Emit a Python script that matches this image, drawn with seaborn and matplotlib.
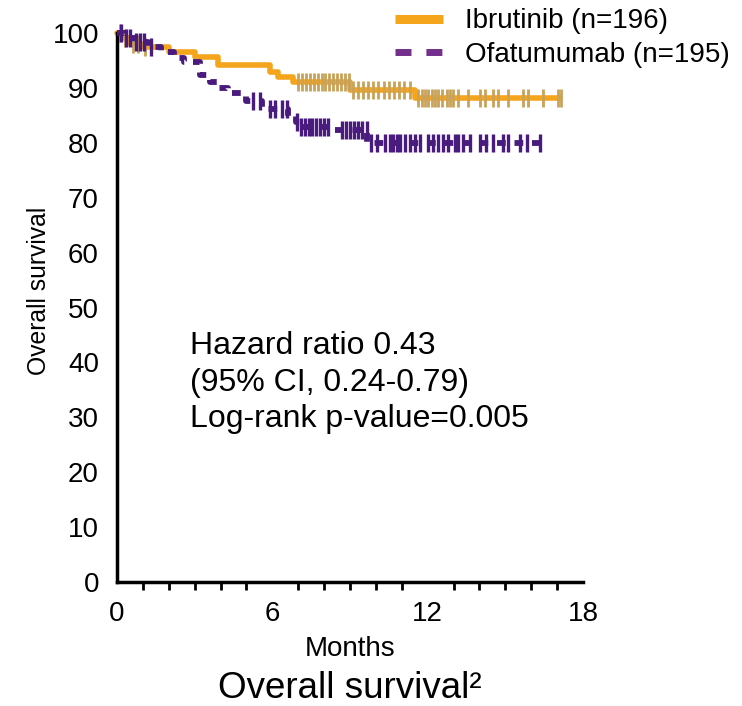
import numpy as np
import pandas as pd
import matplotlib
matplotlib.use("Agg")
import matplotlib.pyplot as plt
from matplotlib.lines import Line2D
import seaborn as sns

sns.set_theme(style="white")
plt.rcParams['font.family'] = ['Liberation Sans', 'DejaVu Sans']
plt.rcParams.update({"text.color": "black", "axes.labelcolor": "black",
                     "xtick.color": "black", "ytick.color": "black"})

# ---- data ----
ibr_times = [0, 0.2, 0.5, 1.0, 2.0, 3.0, 3.9, 5.9, 6.2, 6.8, 9.0, 11.5, 17.1]
ibr_surv = [100, 99.0, 98.0, 97.4, 96.6, 95.7, 94.2, 92.9, 92.0, 91.0, 89.7, 88.1, 88.1]
ibr_censor = [0.1, 0.3, 0.6, 0.8, 1.1,
              7.0, 7.15, 7.3, 7.45, 7.6, 7.75, 7.9, 8.05, 8.2, 8.35, 8.5, 8.65, 8.8, 8.95,
              9.1, 9.3, 9.5, 9.7, 9.9, 10.1, 10.3, 10.5, 10.7, 10.9, 11.1, 11.3,
              11.62, 11.78, 11.89, 12.01, 12.16, 12.28, 12.39, 12.55, 12.74, 12.86, 12.97,
              13.17, 13.55, 14.02, 14.21, 14.52, 14.71, 15.1, 15.68, 15.87, 16.45, 17.03, 17.15]

ofa_times = [0, 0.3, 0.7, 1.2, 1.7, 2.2, 2.6, 3.2, 3.6, 3.9, 4.3, 5.0, 5.6, 6.6, 6.9, 7.1, 8.3, 9.65, 16.4]
ofa_surv = [100, 99.0, 98.4, 97.5, 96.5, 95.4, 94.8, 92.3, 91.1, 89.9, 89.0, 87.6, 86.2, 84.8, 83.8, 82.9, 82.3, 79.9, 79.9]
ofa_censor = [0.15, 0.35, 0.5, 0.75, 0.9, 1.05, 1.3,
              5.25, 5.52, 5.91, 6.1, 6.37, 6.56,
              6.95, 7.1, 7.25, 7.4, 7.55, 7.7, 7.85, 8.0, 8.15,
              8.7, 8.85, 9.0, 9.15, 9.3, 9.45,
              9.64, 9.83, 10.03, 10.35, 10.54, 10.67, 10.80, 10.93, 11.12, 11.31, 11.51,
              11.70, 12.02, 12.21, 12.41, 12.60, 12.79, 13.05, 13.18, 13.37, 13.63, 14.02,
              14.27, 14.53, 14.92, 15.11, 15.56, 15.82, 16.33]

labels = ["Ibrutinib (n=196)", "Ofatumumab (n=195)"]
x_ticks = [0, 6, 12, 18]
y_ticks = list(range(0, 101, 10))

ORANGE = "#F4A51C"
PURPLE = "#4A1B7E"
PURPLE_LEG = "#732F8C"


def step_at(times, surv, t):
    idx = np.searchsorted(np.asarray(times), np.asarray(t), side="right") - 1
    return np.asarray(surv)[idx]


fig = plt.figure(figsize=(7.42, 7.06), dpi=100)
ax = fig.add_axes([117 / 742, 1 - 582 / 706, 466 / 742, 549 / 706])

ibr_df = pd.DataFrame({"t": ibr_times, "s": ibr_surv})
ofa_df = pd.DataFrame({"t": ofa_times, "s": ofa_surv})

sns.lineplot(data=ofa_df, x="t", y="s", ax=ax, drawstyle="steps-post", color=PURPLE,
             linewidth=4.2, linestyle=(0, (1.5, 1.5)), estimator=None, sort=False, zorder=3)
sns.lineplot(data=ibr_df, x="t", y="s", ax=ax, drawstyle="steps-post", color=ORANGE,
             linewidth=4.0, estimator=None, sort=False, zorder=2)

ibr_c = pd.DataFrame({"t": ibr_censor, "s": step_at(ibr_times, ibr_surv, ibr_censor)})
ofa_c = pd.DataFrame({"t": ofa_censor, "s": step_at(ofa_times, ofa_surv, ofa_censor)})
sns.scatterplot(data=ibr_c, x="t", y="s", ax=ax, marker="|", s=170, linewidth=2,
                color="#C9A25A", zorder=2.5)
sns.scatterplot(data=ofa_c, x="t", y="s", ax=ax, marker="|", s=170, linewidth=2.4,
                color=PURPLE, zorder=3.5)

ax.set_xlim(0, 18)
ax.set_ylim(0, 100)
ax.set_xticks(x_ticks)
ax.set_xticks(np.arange(0, 19, 1), minor=True)
ax.set_yticks(y_ticks)
ax.tick_params(axis="both", which="major", direction="out", length=10, width=2,
               labelsize=20, color="black", pad=3)
ax.tick_params(axis="x", which="minor", direction="out", length=6, width=2, color="black",
               bottom=True)
ax.tick_params(axis="x", which="major", length=11)
for side in ["top", "right"]:
    ax.spines[side].set_visible(False)
for side in ["left", "bottom"]:
    ax.spines[side].set_color("black")
    ax.spines[side].set_linewidth(2.5)
for coll in ax.collections + ax.lines:
    coll.set_clip_on(False)

ax.set_xlabel("Months", fontsize=20, labelpad=6)
ax.set_ylabel("Overall survival", fontsize=17.8)
ax.yaxis.set_label_coords(-0.142, 0.53)
ax.grid(False)

ax.text(0.157, 0.457, "Hazard ratio 0.43\n(95% CI, 0.24-0.79)\nLog-rank p-value=0.005",
        transform=ax.transAxes, fontsize=23, va="top", ha="left", linespacing=1.28)

fig.text(0.472, 0.025, "Overall survival²", fontsize=26.5, ha="center", va="center")

handles = [Line2D([0], [0], color=ORANGE, linewidth=6.5, solid_capstyle="butt"),
           Line2D([0], [0], color=PURPLE_LEG, linewidth=5, linestyle=(0, (2.3, 2.15)),
                  dash_capstyle="butt")]
fig.legend(handles, labels, loc="upper left", bbox_to_anchor=(0.529, 0.992), frameon=False,
           fontsize=20, handlelength=1.73, handletextpad=0.78, labelspacing=0.28,
           borderpad=0.1, borderaxespad=0)

fig.savefig("out.png", dpi=100)
